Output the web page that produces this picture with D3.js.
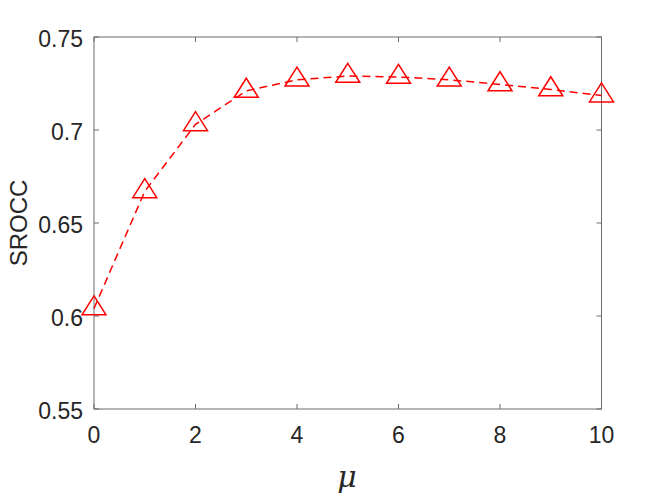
<!DOCTYPE html>
<html lang="en">
<head>
  <meta charset="utf-8">
  <title>SROCC vs mu</title>
  <script src="https://d3js.org/d3.v7.min.js"></script>
  <style>
    body { margin: 0; background: #fff; }
    text { font-family: "Liberation Sans", Arial, sans-serif; fill: #262626; }
  </style>
</head>
<body>
<div class="chart"></div>
<script type="text/javascript">

// data
var mu = [0, 1, 2, 3, 4, 5, 6, 7, 8, 9, 10];
var srocc = [0.604, 0.667, 0.703, 0.721, 0.727, 0.729, 0.7285, 0.727, 0.7245, 0.7218, 0.7185];
var xTicks = [0, 2, 4, 6, 8, 10];
var yTicks = [0.55, 0.6, 0.65, 0.7, 0.75];

var width = 664, height = 498;
var plotLeft = 94, plotRight = 601.5, plotTop = 37, plotBottom = 409;

var svg = d3.select(".chart").append("svg")
    .attr("width", width)
    .attr("height", height);

var x = d3.scaleLinear().domain([0, 10]).range([plotLeft, plotRight]);
var y = d3.scaleLinear().domain([0.55, 0.75]).range([plotBottom, plotTop]);

var axisColor = "#6b6b6b";

// box
svg.append("rect")
    .attr("x", plotLeft).attr("y", plotTop)
    .attr("width", plotRight - plotLeft).attr("height", plotBottom - plotTop)
    .attr("fill", "none")
    .attr("stroke", axisColor)
    .attr("stroke-width", 1);

// ticks (inward, on all four sides)
var tickLen = 5;
var g = svg.append("g").attr("stroke", axisColor).attr("stroke-width", 1);

xTicks.forEach(function(t) {
  g.append("line").attr("x1", x(t)).attr("x2", x(t)).attr("y1", plotBottom).attr("y2", plotBottom - tickLen);
  g.append("line").attr("x1", x(t)).attr("x2", x(t)).attr("y1", plotTop).attr("y2", plotTop + tickLen);
});
yTicks.forEach(function(t) {
  g.append("line").attr("x1", plotLeft).attr("x2", plotLeft + tickLen).attr("y1", y(t)).attr("y2", y(t));
  g.append("line").attr("x1", plotRight).attr("x2", plotRight - tickLen).attr("y1", y(t)).attr("y2", y(t));
});

// tick labels
svg.selectAll(".xlab")
  .data(xTicks)
  .enter()
  .append("text")
  .attr("x", function(d) { return x(d); })
  .attr("y", plotBottom + 34)
  .attr("text-anchor", "middle")
  .style("font-size", "23px")
  .text(function(d) { return d; });

svg.selectAll(".ylab")
  .data(yTicks)
  .enter()
  .append("text")
  .attr("x", plotLeft - 11)
  .attr("y", function(d) { return y(d) + 9.5; })
  .attr("text-anchor", "end")
  .style("font-size", "23px")
  .text(function(d) { return d3.format("")(+d.toFixed(2)); });

// axis titles
svg.append("text")
    .attr("transform", "translate(26.5," + ((plotTop + plotBottom) / 2) + ") rotate(-90)")
    .attr("text-anchor", "middle")
    .style("font-size", "24px")
    .text("SROCC");

svg.append("text")
    .attr("x", 347)
    .attr("y", 487)
    .attr("text-anchor", "middle")
    .style("font-size", "30px")
    .style("font-style", "italic")
    .style("font-family", "'DejaVu Serif', serif")
    .text("μ");

// dashed line
var line = d3.line()
    .x(function(d, i) { return x(mu[i]); })
    .y(function(d) { return y(d); });

svg.append("path")
    .datum(srocc)
    .attr("d", line)
    .attr("fill", "none")
    .attr("stroke", "#ff0000")
    .attr("stroke-width", 1.5)
    .attr("stroke-dasharray", "8,5");

// triangle markers (centroid on the data point)
var tri = "M0,-12.7 L12,6.3 L-12,6.3 Z";
svg.selectAll(".mark")
  .data(srocc)
  .enter()
  .append("path")
  .attr("d", tri)
  .attr("transform", function(d, i) { return "translate(" + x(mu[i]) + "," + y(d) + ")"; })
  .attr("fill", "none")
  .attr("stroke", "#ff0000")
  .attr("stroke-width", 1.5);

</script>
</body>
</html>
